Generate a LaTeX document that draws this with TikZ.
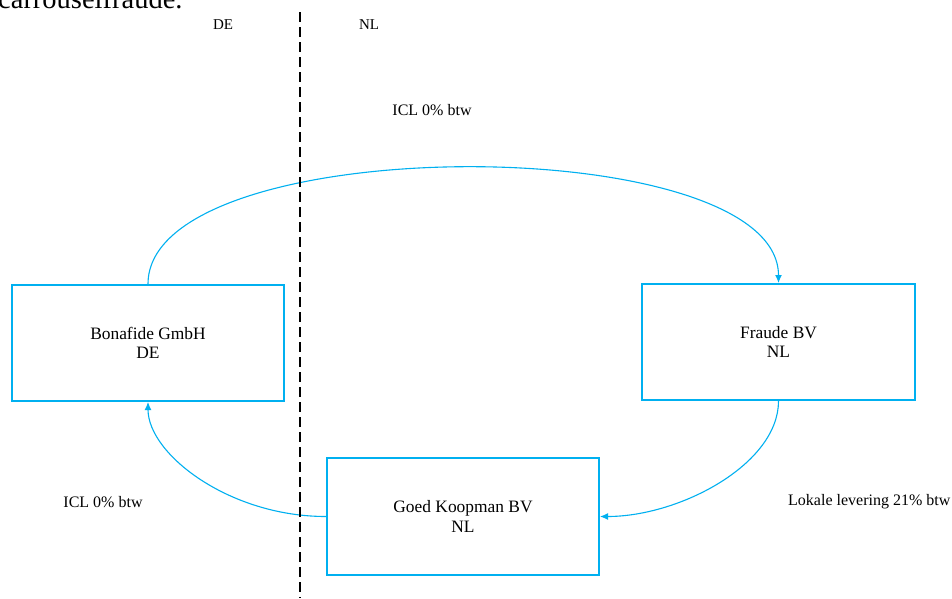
\documentclass[tikz,border=0pt]{standalone}
\usepackage{fontspec}
\setmainfont{Liberation Serif}
\usetikzlibrary{arrows.meta}
\definecolor{wordblue}{HTML}{00B0F0}
\tikzset{
  firm/.style={draw=wordblue, line width=2pt, minimum width=272pt, minimum height=116pt,
    align=center, inner sep=0pt, font=\fontsize{17.4}{19.5}\selectfont},
  flow/.style={draw=wordblue, line width=1.1pt, -{Latex[length=8pt,width=7pt]}},
  lbl/.style={inner sep=0pt, font=\fontsize{16}{18}\selectfont},
  cty/.style={inner sep=0pt, font=\fontsize{15}{17}\selectfont},
  border/.style={draw=black, line width=2pt, dash pattern=on 10pt off 5pt}
}
\begin{document}
\begin{tikzpicture}[x=1pt,y=-1pt]
\useasboundingbox (0,0) rectangle (952,598);
\fill[white] (0,0) rectangle (952,598);
% heading cut off at the top
\node[anchor=base west, inner sep=0pt, font=\fontsize{28.5}{30}\selectfont] (head) at (-2,8) {carrouselfraude.};
% country labels
\node[cty] (de) at (223,25) {DE};
\node[cty] (nl) at (369,25) {NL};
% companies
\node[firm] (bona) at (148,343) {Bonafide GmbH\\DE};
\node[firm, minimum width=273pt] (fraude) at (778.5,342) {Fraude BV\\NL};
\node[firm, minimum height=117pt] (goed) at (463,516.5) {Goed Koopman BV\\NL};
% flows
\draw[flow] (bona.north) .. controls (148,129) and (778.5,129) .. (fraude.north);
\draw[flow] (fraude.south) .. controls (778.5,464) and (680,516.5) .. (goed.east);
\draw[flow] (goed.west) .. controls (229,516.5) and (148,454) .. (bona.south);
% flow labels
\node[lbl] (icltop) at (432,110) {ICL 0\% btw};
\node[lbl] (iclbot) at (103,502) {ICL 0\% btw};
\node[lbl, anchor=west] (lokaal) at (788,502) {Lokale levering 21\% btw};
% border
\coordinate (btop) at (300,12);
\coordinate (bbot) at (300,598);
\draw[border] (btop) -- (bbot);
\end{tikzpicture}
\end{document}
